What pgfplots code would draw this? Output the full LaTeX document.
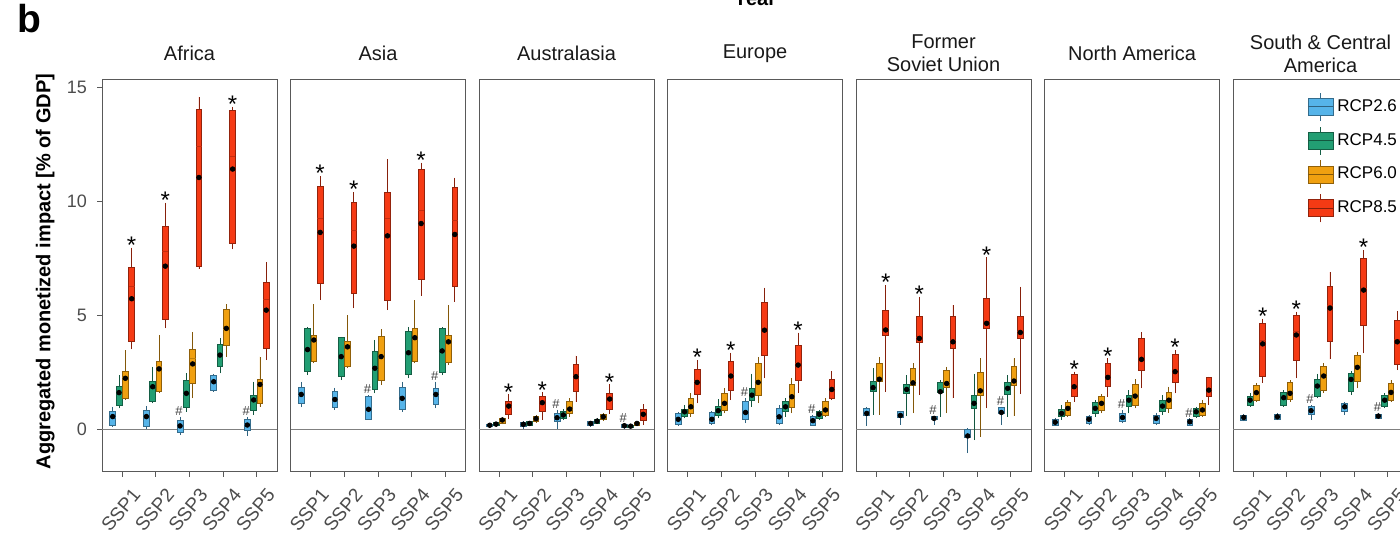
\documentclass[border=0pt]{standalone}
\usepackage{fontspec}
\setmainfont{Liberation Sans}
\usepackage{pgfplots}
\usepackage{pgfplotstable}
\pgfplotsset{compat=1.18}
\usepgfplotslibrary{statistics}

\definecolor{cA}{HTML}{56B4E9}
\definecolor{cB}{HTML}{229E73}
\definecolor{cC}{HTML}{F0A010}
\definecolor{cD}{HTML}{F53A14}

% rows: SSP1 (RCP2.6, 4.5, 6.0, 8.5), SSP2 ..., SSP5
\pgfplotstableread{
lw lq md uq uw mn st hs
0.10 0.19 0.52 0.77 1.00 0.56 nan nan
0.92 1.07 1.62 1.87 2.38 1.61 nan nan
1.30 1.36 2.30 2.53 3.48 2.24 nan nan
3.51 3.85 6.26 7.10 7.97 5.73 7.97 nan
0.00 0.15 0.55 0.82 1.02 0.56 nan nan
1.14 1.21 1.90 2.09 2.75 1.87 nan nan
1.58 1.65 2.75 3.00 4.14 2.65 nan nan
4.43 4.82 7.80 8.91 9.94 7.16 9.94 nan
-0.25 -0.15 0.15 0.41 0.55 0.15 nan 0.55
0.77 0.96 1.55 2.13 2.46 1.58 nan nan
1.36 2.02 3.10 3.52 4.28 2.87 nan nan
7.03 7.13 12.40 14.05 14.59 11.05 nan nan
1.65 1.72 2.10 2.38 2.45 2.09 nan nan
2.46 2.75 3.25 3.74 3.99 3.26 nan nan
3.19 3.70 4.40 5.28 5.48 4.43 nan nan
7.90 8.16 12.00 13.98 14.15 11.42 14.15 nan
-0.29 -0.06 0.20 0.44 0.55 0.19 nan 0.55
0.63 0.85 1.30 1.50 2.09 1.29 nan nan
1.00 1.14 2.00 2.21 3.19 1.97 nan nan
3.04 3.55 5.70 6.46 7.35 5.23 nan nan
}\tAfrica

\pgfplotstableread{
lw lq md uq uw mn st hs
0.96 1.14 1.50 1.83 2.09 1.53 nan nan
2.38 2.53 3.50 4.43 4.50 3.50 nan nan
2.89 3.00 3.95 4.14 5.48 3.92 nan nan
5.67 6.40 9.28 10.67 11.10 8.64 11.10 nan
0.85 0.95 1.30 1.65 1.83 1.31 nan nan
2.16 2.33 3.20 4.03 4.06 3.19 nan nan
2.67 2.75 3.65 3.84 5.01 3.62 nan nan
5.31 5.96 8.74 9.96 10.40 8.04 10.40 nan
0.41 0.45 0.85 1.43 1.50 0.88 nan 1.50
1.58 1.75 2.65 3.40 3.92 2.68 nan nan
1.94 2.13 3.20 4.06 4.39 3.19 nan nan
5.23 5.67 9.28 10.39 11.84 8.49 nan nan
0.77 0.87 1.35 1.83 2.09 1.36 nan nan
2.24 2.43 3.35 4.31 4.50 3.36 nan nan
2.89 2.98 4.05 4.43 5.67 4.02 nan nan
5.86 6.58 9.60 11.42 11.69 9.03 11.69 nan
0.92 1.11 1.50 1.80 2.09 1.53 nan 2.09
2.38 2.48 3.45 4.43 4.50 3.44 nan nan
2.82 2.92 3.85 4.10 5.45 3.84 nan nan
5.60 6.29 9.18 10.60 11.04 8.55 nan nan
}\tAsia

\pgfplotstableread{
lw lq md uq uw mn st hs
0.04 0.12 0.18 0.22 0.29 0.18 nan nan
0.12 0.16 0.23 0.30 0.34 0.23 nan nan
0.22 0.26 0.41 0.50 0.55 0.41 nan nan
0.44 0.66 1.02 1.24 1.53 1.02 1.53 nan
0.02 0.14 0.22 0.29 0.35 0.22 nan nan
0.15 0.19 0.26 0.33 0.38 0.26 nan nan
0.30 0.35 0.47 0.57 0.62 0.47 nan nan
0.41 0.77 1.17 1.43 1.62 1.17 1.62 nan
0.00 0.33 0.50 0.70 0.85 0.51 nan 0.85
0.42 0.48 0.63 0.80 0.90 0.63 nan nan
0.55 0.70 0.90 1.21 1.36 0.89 nan nan
1.21 1.65 2.35 2.85 3.23 2.31 nan nan
0.12 0.18 0.26 0.33 0.38 0.26 nan nan
0.24 0.28 0.36 0.45 0.50 0.36 nan nan
0.38 0.44 0.55 0.67 0.72 0.55 nan nan
0.67 0.89 1.33 1.58 1.97 1.33 1.97 nan
0.05 0.08 0.16 0.22 0.26 0.16 nan 0.26
0.06 0.10 0.14 0.19 0.22 0.14 nan nan
0.15 0.19 0.26 0.30 0.34 0.26 nan nan
0.19 0.41 0.66 0.87 1.11 0.66 nan nan
}\tAustralasia

\pgfplotstableread{
lw lq md uq uw mn st hs
0.15 0.23 0.42 0.70 0.77 0.44 nan nan
0.48 0.58 0.78 0.88 1.07 0.77 nan nan
0.55 0.70 1.00 1.36 1.58 0.99 nan nan
1.14 1.55 2.10 2.64 3.04 2.06 3.04 nan
0.20 0.26 0.44 0.73 0.80 0.44 nan nan
0.48 0.63 0.82 0.99 1.31 0.82 nan nan
0.70 0.82 1.15 1.58 1.80 1.14 nan nan
1.28 1.72 2.40 2.99 3.36 2.34 3.36 nan
0.26 0.44 0.72 1.21 1.36 0.74 nan 1.36
0.99 1.26 1.50 1.80 2.45 1.50 nan nan
1.14 1.50 2.05 2.89 3.18 2.06 nan nan
2.24 3.26 4.40 5.59 6.22 4.35 nan nan
0.19 0.26 0.55 0.92 1.07 0.55 nan nan
0.55 0.77 0.99 1.21 1.36 0.99 nan nan
0.70 0.96 1.43 1.98 2.24 1.43 nan nan
1.61 2.16 2.90 3.67 4.24 2.82 4.24 nan
0.15 0.19 0.38 0.55 0.63 0.38 nan 0.63
0.40 0.48 0.66 0.77 0.85 0.66 nan nan
0.55 0.63 0.85 1.21 1.36 0.85 nan nan
1.28 1.36 1.80 2.19 2.57 1.75 nan nan
}\tEurope

\pgfplotstableread{
lw lq md uq uw mn st hs
0.15 0.63 0.70 0.92 0.99 0.70 nan nan
0.63 1.65 1.85 2.11 2.67 1.83 nan nan
0.63 2.11 2.25 2.89 3.18 2.20 nan nan
1.65 4.13 4.45 5.20 6.32 4.36 6.32 nan
0.19 0.53 0.62 0.77 0.82 0.61 nan nan
0.58 1.58 1.78 1.97 2.38 1.75 nan nan
0.70 1.94 2.10 2.67 2.89 2.04 nan nan
1.50 3.80 4.05 4.94 5.81 3.99 5.81 nan
0.20 0.44 0.48 0.55 0.58 0.48 nan 0.58
0.55 1.60 1.70 2.04 2.16 1.65 nan nan
0.70 1.84 2.05 2.57 2.75 2.01 nan nan
1.36 3.55 3.90 4.94 5.45 3.84 nan nan
-1.05 -0.35 -0.28 0.00 0.04 -0.29 nan nan
-0.47 0.92 1.20 1.50 2.45 1.14 nan nan
-0.32 1.50 1.75 2.52 3.11 1.69 nan nan
0.92 4.43 4.75 5.74 7.54 4.65 7.54 nan
0.19 0.70 0.75 0.95 0.99 0.74 nan 0.99
0.55 1.55 1.82 2.05 2.38 1.80 nan nan
0.58 1.91 2.15 2.74 3.11 2.12 nan nan
1.55 3.98 4.30 4.94 6.26 4.25 nan nan
}\tFSU

\pgfplotstableread{
lw lq md uq uw mn st hs
0.15 0.19 0.31 0.44 0.48 0.31 nan nan
0.41 0.55 0.71 0.88 1.07 0.70 nan nan
0.55 0.63 0.93 1.17 1.28 0.92 nan nan
1.21 1.46 1.90 2.41 2.53 1.87 2.53 nan
0.20 0.26 0.44 0.58 0.63 0.44 nan nan
0.55 0.70 0.93 1.17 1.28 0.92 nan nan
0.70 0.82 1.15 1.43 1.55 1.14 nan nan
1.43 1.87 2.30 2.89 3.11 2.28 3.11 nan
0.26 0.33 0.52 0.70 0.84 0.52 nan 0.84
0.70 1.02 1.28 1.50 1.72 1.28 nan nan
0.92 1.07 1.46 1.99 2.19 1.46 nan nan
1.80 2.60 3.10 3.99 4.25 3.07 nan nan
0.20 0.26 0.48 0.63 0.70 0.48 nan nan
0.63 0.77 1.02 1.28 1.50 1.02 nan nan
0.73 0.92 1.28 1.61 1.87 1.28 nan nan
1.58 2.05 2.55 3.29 3.48 2.53 3.48 nan
0.15 0.19 0.33 0.44 0.48 0.33 nan 0.48
0.50 0.58 0.77 0.92 1.00 0.77 nan nan
0.55 0.63 0.85 1.14 1.28 0.85 nan nan
1.07 1.43 1.75 2.27 2.31 1.72 nan nan
}\tNA

\pgfplotstableread{
lw lq md uq uw mn st hs
0.35 0.41 0.52 0.63 0.68 0.52 nan nan
1.00 1.06 1.28 1.43 1.58 1.28 nan nan
1.21 1.28 1.61 1.94 2.04 1.61 nan nan
2.04 2.34 3.90 4.65 4.85 3.75 4.85 nan
0.40 0.45 0.55 0.67 0.72 0.55 nan nan
0.99 1.06 1.39 1.61 1.72 1.39 nan nan
1.21 1.31 1.58 2.04 2.16 1.58 nan nan
2.24 3.01 4.30 5.00 5.15 4.14 5.15 nan
0.41 0.67 0.82 0.99 1.06 0.82 nan 1.06
1.36 1.43 1.90 2.19 2.45 1.90 nan nan
1.61 1.72 2.34 2.75 2.92 2.34 nan nan
3.07 3.84 5.45 6.28 6.90 5.32 nan nan
0.63 0.80 0.99 1.14 1.21 0.99 nan nan
1.50 1.65 2.19 2.45 2.57 2.19 nan nan
1.80 2.09 2.72 3.26 3.40 2.72 nan nan
3.33 4.57 6.20 7.50 7.86 6.11 7.86 nan
0.45 0.48 0.58 0.67 0.72 0.58 nan 0.72
0.92 0.99 1.28 1.50 1.58 1.28 nan nan
1.21 1.28 1.62 2.01 2.16 1.62 nan nan
2.60 2.86 3.95 4.80 5.20 3.84 nan nan
}\tSCA

\newcommand\onebox[4]{%
  \pgfplotstablegetelem{#2}{lw}\of{#1}\let\bLW\pgfplotsretval
  \pgfplotstablegetelem{#2}{lq}\of{#1}\let\bLQ\pgfplotsretval
  \pgfplotstablegetelem{#2}{md}\of{#1}\let\bMD\pgfplotsretval
  \pgfplotstablegetelem{#2}{uq}\of{#1}\let\bUQ\pgfplotsretval
  \pgfplotstablegetelem{#2}{uw}\of{#1}\let\bUW\pgfplotsretval
  \pgfmathsetmacro\bPOS{floor((#2+0.5)/4)+1+(#4)}%
  \edef\doplot{\noexpand\addplot[forget plot, fill=#3, draw=#3!60!black, line width=0.4pt,
    boxplot prepared={draw direction=y, draw position=\bPOS,
      lower whisker=\bLW, lower quartile=\bLQ, median=\bMD,
      upper quartile=\bUQ, upper whisker=\bUW,
      box extend=0.17, whisker extend=0,
      every box/.style={draw=#3!60!black, fill=#3},
      every whisker/.style={draw=#3!55!black},
      every median/.style={draw=#3!80!black, line width=0.3pt}},
  ] coordinates {};}%
  \doplot
}
\newcommand\panelplots[1]{%
  \addplot[forget plot, black!50, line width=0.6pt] coordinates {(0.4,0) (5.6,0)};
  \pgfplotsinvokeforeach{0,4,...,16}{\onebox{#1}{##1}{cA}{-0.28125}}
  \pgfplotsinvokeforeach{1,5,...,17}{\onebox{#1}{##1}{cB}{-0.09375}}
  \pgfplotsinvokeforeach{2,6,...,18}{\onebox{#1}{##1}{cC}{0.09375}}
  \pgfplotsinvokeforeach{3,7,...,19}{\onebox{#1}{##1}{cD}{0.28125}}
  \addplot[forget plot, only marks, mark=*, mark size=1.15pt, black]
    table[x expr={floor((\coordindex+0.5)/4)+1+0.1875*(mod(\coordindex,4)-1.5)}, y=mn] {#1};
  \addplot[forget plot, only marks, mark=*, mark size=0pt, mark options={draw=none,fill=none},
    nodes near coords={*},
    every node near coord/.style={anchor=south, inner sep=0pt, yshift=-3pt,
      font=\fontsize{12}{12}\selectfont, text=black}]
    table[x expr={floor((\coordindex+0.5)/4)+1+0.1875*(mod(\coordindex,4)-1.5)}, y=st] {#1};
  \addplot[forget plot, only marks, mark=*, mark size=0pt, mark options={draw=none,fill=none},
    nodes near coords={\#},
    every node near coord/.style={anchor=south, inner sep=0pt, yshift=0.5pt, xshift=-0.5pt,
      font=\fontsize{6.5}{6.5}\selectfont, text=black!75}]
    table[x expr={floor((\coordindex+0.5)/4)+1+0.1875*(mod(\coordindex,4)-1.5)}, y=hs] {#1};
}
\newcommand\boxglyph[1]{%
  \draw[draw=#1!60!black, line width=0.4pt] (6.25pt,-7pt) -- (6.25pt,7pt);
  \draw[draw=#1!60!black, fill=#1, line width=0.4pt] (0pt,-4.25pt) rectangle (12.5pt,4.25pt);
  \draw[draw=#1!55!black, line width=0.5pt] (0pt,0pt) -- (12.5pt,0pt);
}

\pgfplotsset{
  panel/.style={
    scale only axis, width=87.5pt, height=196pt, anchor=south west,
    xmin=0.4, xmax=5.6, ymin=-1.85, ymax=15.35,
    xtick={1,2,3,4,5}, xticklabels={SSP1,SSP2,SSP3,SSP4,SSP5},
    xtick pos=left, ytick pos=left, ytick=\empty,
    tick align=outside, major tick length=2.5pt,
    axis line style={black!65, line width=0.5pt},
    every tick/.style={black!65, line width=0.5pt},
    /pgf/number format/assume math mode=true,
    xticklabel style={xshift=4.5pt, yshift=-5pt, rotate=50, anchor=north east, inner sep=0pt,
      font=\fontsize{9.5}{10}\selectfont, text=black!70},
    yticklabel style={font=\fontsize{9}{10}\selectfont, text=black!70, xshift=-1.5pt},
    title style={at={(0.5,1)}, anchor=center, yshift=7pt, align=center,
      font=\fontsize{10}{11.5}\selectfont, text=black!90},
  }
}

\begin{document}
\begin{tikzpicture}
\begin{axis}[panel, at={(51pt,31.75pt)}, title={Africa}, ytick={0,5,10,15},
  ylabel={Aggregated monetized impact [\% of GDP]},
  ylabel style={at={([xshift=-23.5pt]axis description cs:0,0.51)}, anchor=south,
    inner sep=0pt, font=\bfseries\fontsize{10}{12}\selectfont}]
\panelplots{\tAfrica}
\end{axis}
\begin{axis}[panel, at={(145.25pt,31.75pt)}, title={Asia}]
\panelplots{\tAsia}
\end{axis}
\begin{axis}[panel, at={(239.5pt,31.75pt)}, title={Australasia}]
\panelplots{\tAustralasia}
\end{axis}
\begin{axis}[panel, at={(333.75pt,31.75pt)}, title={Europe}]
\panelplots{\tEurope}
\end{axis}
\begin{axis}[panel, at={(428pt,31.75pt)}, title={Former\\Soviet Union}]
\panelplots{\tFSU}
\end{axis}
\begin{axis}[panel, at={(522.25pt,31.75pt)}, title={North America}]
\panelplots{\tNA}
\end{axis}
\begin{axis}[panel, at={(616.5pt,31.75pt)}, title={South \& Central\\America},
  legend style={at={(0,1)}, anchor=north west, xshift=37pt, yshift=-6.3pt,
    draw=none, fill=none, inner sep=0pt, font=\fontsize{8.5}{9}\selectfont, row sep=2.5pt},
  legend cell align=left]
\addlegendimage{legend image code/.code={\boxglyph{cA}}}
\addlegendentry{RCP2.6}
\addlegendimage{legend image code/.code={\boxglyph{cB}}}
\addlegendentry{RCP4.5}
\addlegendimage{legend image code/.code={\boxglyph{cC}}}
\addlegendentry{RCP6.0}
\addlegendimage{legend image code/.code={\boxglyph{cD}}}
\addlegendentry{RCP8.5}
\panelplots{\tSCA}
\end{axis}
\node[anchor=base west, font=\bfseries\fontsize{19.5}{20}\selectfont, inner sep=0pt] at (8.5pt,251pt) {b};
\node[anchor=base, font=\bfseries\fontsize{10}{12}\selectfont, inner sep=0pt] at (377.5pt,264.5pt) {Year};
\pgfresetboundingbox
\path[use as bounding box] (0,0) rectangle (700pt,267.5pt);
\end{tikzpicture}
\end{document}
